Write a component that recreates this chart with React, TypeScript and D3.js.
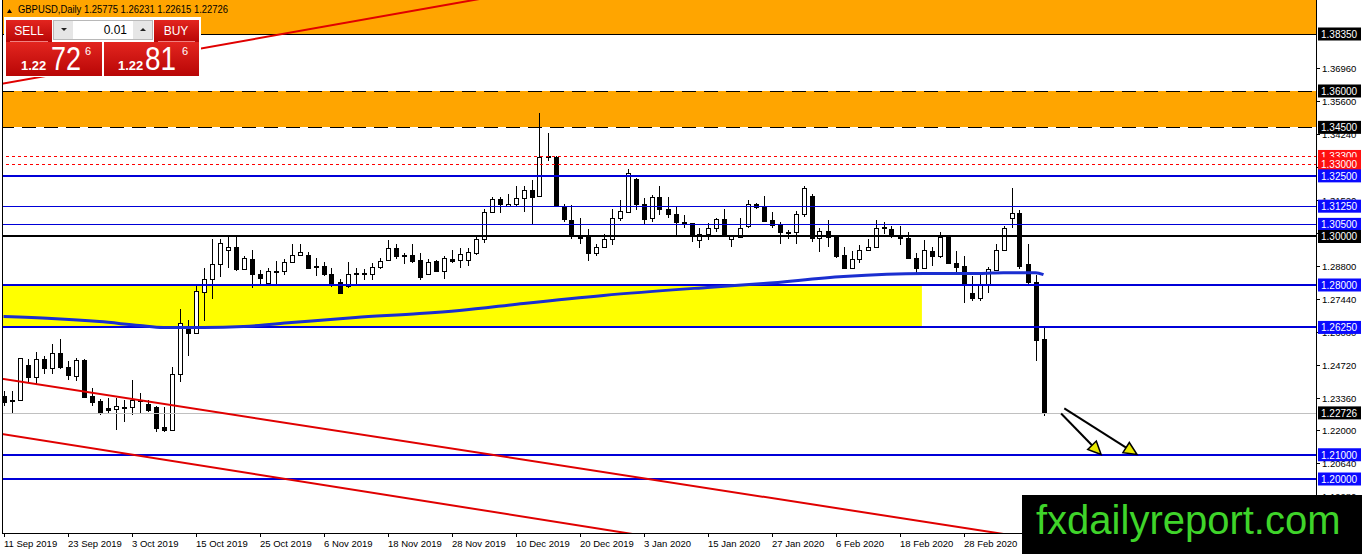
import React from "react";
import * as d3 from "d3";

// GBPUSD daily bars, bar 0 = 11 Sep 2019
const opens = [
  1.2344, 1.2325, 1.2324, 1.2472, 1.2419, 1.2493, 1.2456, 1.2518, 1.246, 1.2423,
  1.2489, 1.2344, 1.232, 1.2291, 1.2287, 1.2295, 1.2295, 1.2323, 1.2311, 1.2295,
  1.2216, 1.22, 1.2431, 1.2621, 1.26, 1.2773, 1.2823, 1.2885, 1.2946, 1.2955,
  1.2868, 1.2909, 1.2847, 1.281, 1.2855, 1.2856, 1.2893, 1.2922, 1.2922, 1.2877,
  1.288, 1.2847, 1.2814, 1.2794, 1.2846, 1.2847, 1.2847, 1.2876, 1.2905, 1.2951,
  1.2921, 1.2922, 1.2905, 1.2847, 1.2897, 1.2856, 1.2909, 1.2905, 1.2905, 1.293,
  1.2988, 1.3099, 1.3153, 1.3124, 1.3132, 1.3157, 1.319, 1.3165, 1.3331, 1.3326,
  1.312, 1.307, 1.2997, 1.2996, 1.293, 1.2955, 1.2988, 1.3078, 1.3103, 1.3239,
  1.3132, 1.3078, 1.3161, 1.3115, 1.3091, 1.3059, 1.3054, 1.2984, 1.3012, 1.3033,
  1.3074, 1.2988, 1.2996, 1.3045, 1.3136, 1.312, 1.307, 1.3049, 1.3018, 1.3017,
  1.3091, 1.3169, 1.2992, 1.3021, 1.2996, 1.2922, 1.2872, 1.2909, 1.2946, 1.2955,
  1.3036, 1.3029, 1.3, 1.2992, 1.2913, 1.2872, 1.2942, 1.2918, 1.2996, 1.2889,
  1.288, 1.2769, 1.2748, 1.2806, 1.286, 1.2946, 1.3078, 1.3095, 1.2885, 1.2814,
  1.25775,
];
const highs = [
  1.2361, 1.2361, 1.2501, 1.2493, 1.2522, 1.2509, 1.2555, 1.2579, 1.2485, 1.2497,
  1.2493, 1.2377, 1.2328, 1.2336, 1.2336, 1.2324, 1.241, 1.2353, 1.2324, 1.2303,
  1.2295, 1.246, 1.2703, 1.2654, 1.2794, 1.2872, 1.2988, 1.2988, 1.3008, 1.3004,
  1.2918, 1.2946, 1.286, 1.2872, 1.2901, 1.2909, 1.2971, 1.2971, 1.2934, 1.2913,
  1.2893, 1.2872, 1.2823, 1.2893, 1.2872, 1.2868, 1.2889, 1.2913, 1.2984, 1.2971,
  1.293, 1.2971, 1.293, 1.2909, 1.2905, 1.2918, 1.2946, 1.2951, 1.2951, 1.3004,
  1.3115, 1.3161, 1.3161, 1.3177, 1.321, 1.321, 1.3231, 1.3511, 1.3425, 1.333,
  1.3132, 1.3128, 1.3078, 1.3029, 1.2967, 1.3012, 1.3115, 1.3149, 1.328, 1.324,
  1.3157, 1.3173, 1.321, 1.3161, 1.312, 1.3087, 1.3054, 1.3033, 1.3054, 1.3078,
  1.3115, 1.3008, 1.3078, 1.3149, 1.314, 1.3169, 1.3099, 1.3058, 1.3025, 1.3107,
  1.321, 1.3177, 1.3037, 1.3066, 1.3, 1.2955, 1.2942, 1.2963, 1.2988, 1.3066,
  1.3058, 1.3045, 1.3045, 1.3017, 1.293, 1.2984, 1.2955, 1.3017, 1.2997, 1.2942,
  1.2918, 1.2839, 1.2843, 1.2876, 1.2967, 1.3045, 1.3198, 1.3111, 1.2971, 1.2843,
  1.26231,
];
const lows = [
  1.2303, 1.2274, 1.2321, 1.2394, 1.239, 1.2431, 1.2431, 1.2452, 1.241, 1.2406,
  1.2339, 1.2299, 1.2262, 1.2266, 1.22, 1.2233, 1.2262, 1.227, 1.2278, 1.2192,
  1.2192, 1.2199, 1.2402, 1.2509, 1.2599, 1.265, 1.2744, 1.2835, 1.2872, 1.2856,
  1.2867, 1.2786, 1.2802, 1.2802, 1.2802, 1.2843, 1.2892, 1.2921, 1.2868, 1.2839,
  1.2839, 1.279, 1.2761, 1.2786, 1.2806, 1.2819, 1.2819, 1.2868, 1.2901, 1.2909,
  1.2885, 1.2889, 1.2819, 1.2843, 1.2855, 1.2823, 1.2889, 1.2872, 1.288, 1.2922,
  1.2975, 1.3095, 1.3095, 1.3123, 1.3123, 1.3099, 1.3049, 1.3164, 1.3313, 1.3123,
  1.3058, 1.2988, 1.2971, 1.2897, 1.2918, 1.2954, 1.2963, 1.3062, 1.3102, 1.3111,
  1.3049, 1.3058, 1.3087, 1.3078, 1.3004, 1.3037, 1.2979, 1.2951, 1.2984, 1.3017,
  1.3, 1.2955, 1.2992, 1.3033, 1.3115, 1.3058, 1.3037, 1.2971, 1.2988, 1.2971,
  1.3082, 1.2979, 1.2934, 1.2955, 1.2913, 1.2871, 1.2864, 1.2889, 1.2942, 1.2951,
  1.3012, 1.2992, 1.2963, 1.2909, 1.2847, 1.2871, 1.288, 1.2913, 1.2885, 1.2852,
  1.2724, 1.2736, 1.2732, 1.2765, 1.2859, 1.2945, 1.3033, 1.2868, 1.2806, 1.2485,
  1.22615,
];
const closes = [
  1.2316, 1.2322, 1.2497, 1.2419, 1.2493, 1.2456, 1.2518, 1.246, 1.2427, 1.2489,
  1.234, 1.2316, 1.2278, 1.2283, 1.2299, 1.2297, 1.2324, 1.2325, 1.2283, 1.2212,
  1.22, 1.2431, 1.2645, 1.26, 1.2777, 1.2823, 1.2885, 1.2975, 1.2955, 1.2868,
  1.2913, 1.2847, 1.2827, 1.2856, 1.2857, 1.2893, 1.2922, 1.2934, 1.2872, 1.2875,
  1.2847, 1.2806, 1.2769, 1.2847, 1.2848, 1.2849, 1.2876, 1.2897, 1.2951, 1.2918,
  1.2923, 1.2901, 1.2831, 1.2893, 1.2856, 1.2913, 1.2901, 1.2926, 1.2934, 1.2988,
  1.3099, 1.3153, 1.3132, 1.3136, 1.3157, 1.319, 1.3161, 1.3326, 1.3329, 1.3124,
  1.3074, 1.3, 1.2995, 1.293, 1.2955, 1.2988, 1.3078, 1.3107, 1.326, 1.3132,
  1.3074, 1.3161, 1.3115, 1.3091, 1.3058, 1.3057, 1.3, 1.3012, 1.3033, 1.3074,
  1.3004, 1.3, 1.3037, 1.3136, 1.312, 1.3062, 1.3049, 1.3017, 1.3016, 1.3091,
  1.3198, 1.2992, 1.3021, 1.2996, 1.2918, 1.2872, 1.2909, 1.2946, 1.2955, 1.3037,
  1.3038, 1.3, 1.2992, 1.2913, 1.2872, 1.2946, 1.2918, 1.2996, 1.2889, 1.2876,
  1.2806, 1.2748, 1.2802, 1.2864, 1.2946, 1.3037, 1.3095, 1.288, 1.2814, 1.2575,
  1.22726,
];

// 200 day moving average, read at some bars
const maBars = [0, 6, 12, 17, 20, 25, 30, 36, 44, 52, 57, 65, 75, 88, 95, 105, 115, 122, 125, 129, 130];
const maValues = [
  1.267, 1.2662, 1.2649, 1.2633, 1.2625, 1.2625, 1.2629, 1.2645, 1.2666, 1.2682, 1.2695,
  1.2724, 1.2757, 1.279, 1.2806, 1.2835, 1.2847, 1.2847, 1.2851, 1.2851, 1.2843,
];

// date labels, one every 8 bars
const dateLabels = [
  "11 Sep 2019", "23 Sep 2019", "3 Oct 2019", "15 Oct 2019", "25 Oct 2019", "6 Nov 2019",
  "18 Nov 2019", "28 Nov 2019", "10 Dec 2019", "20 Dec 2019", "3 Jan 2020", "15 Jan 2020",
  "27 Jan 2020", "6 Feb 2020", "18 Feb 2020", "28 Feb 2020",
];
const priceTicks = [
  1.3696, 1.356, 1.3424, 1.3288, 1.3152, 1.3016, 1.288, 1.2744, 1.2608, 1.2472, 1.2336,
  1.22, 1.2064, 1.1928,
];

// drawn objects
const blueLevels = [1.325, 1.3125, 1.305, 1.28, 1.2625, 1.21, 1.2];
const thinLevels = [1.3125, 1.305];
const redLevels = [1.333, 1.33];
const blackLevel = 1.3;
const topLevel = 1.3835;
const orangeBand = [1.36, 1.345];
const yellowZone = { from: -2, to: 114.8, top: 1.28, bottom: 1.2625 };
const lastPrice = 1.22726;
// trend lines: [bar, price] anchors
const trendLines = [
  [[0, 1.3631], [55, 1.3953]],
  [[0, 1.2412], [100, 1.1901]],
  [[0, 1.2185], [80, 1.1766]],
];
const arrows = [
  [[132.2, 1.227], [137.2, 1.2101]],
  [[132.6, 1.2291], [141.7, 1.2101]],
];

const W = 1362;
const H = 554;
const axisX = 1316;
const bottomY = 533;
const font = "'Liberation Sans', Arial, sans-serif";

const x = d3.scaleLinear().domain([0, 130]).range([3.5, 1043.5]);
const y = d3.scaleLinear().domain([1.3835, 1.2]).range([34, 479]);
const py = (p: number) => Math.round(y(p));

function PriceBox({ price, bg }: { price: number; bg: string }) {
  const yy = y(price);
  return (
    <g>
      <rect x={axisX + 2} y={yy - 6.5} width={43} height={13} fill={bg} />
      <text x={axisX + 5} y={yy + 4} fill="#fff" fontSize={10} fontFamily={font}>
        {price.toFixed(5)}
      </text>
    </g>
  );
}

function extendLine(a: number[], b: number[]) {
  const x1 = x(a[0]), y1 = y(a[1]), x2 = x(b[0]), y2 = y(b[1]);
  const k = (y2 - y1) / (x2 - x1);
  return { x1: 0, y1: y1 - k * x1, x2: axisX, y2: y1 + k * (axisX - x1) };
}

function Arrow({ a, b }: { a: number[]; b: number[] }) {
  const x1 = x(a[0]), y1 = y(a[1]), x2 = x(b[0]), y2 = y(b[1]);
  const ang = Math.atan2(y2 - y1, x2 - x1);
  const len = 13, half = 6;
  const bx = x2 - len * Math.cos(ang), by = y2 - len * Math.sin(ang);
  const nx = -Math.sin(ang) * half, ny = Math.cos(ang) * half;
  return (
    <g>
      <line x1={x1} y1={y1} x2={bx} y2={by} stroke="#000" strokeWidth={2} />
      <polygon
        points={`${x2},${y2} ${bx + nx},${by + ny} ${bx - nx},${by - ny}`}
        fill="#e8e800"
        stroke="#000"
        strokeWidth={1.5}
      />
    </g>
  );
}

function TradePanel() {
  return (
    <g fontFamily={font}>
      <defs>
        <linearGradient id="redg" x1="0" y1="0" x2="0" y2="1">
          <stop offset="0" stopColor="#e3251f" />
          <stop offset="1" stopColor="#b80606" />
        </linearGradient>
      </defs>
      <rect x={4} y={17} width={197} height={60} fill="#fff" />
      <rect x={6} y={20} width={46} height={22} fill="url(#redg)" />
      <rect x={154} y={20} width={45} height={22} fill="url(#redg)" />
      <text x={29} y={35} textAnchor="middle" fill="#fff" fontSize={12}>SELL</text>
      <text x={176} y={35} textAnchor="middle" fill="#fff" fontSize={12}>BUY</text>
      <rect x={53.5} y={20.5} width={99} height={19} fill="#fff" stroke="#b8b8b8" />
      <rect x={54} y={21} width={19} height={18} fill="#e6e6e6" />
      <rect x={133} y={21} width={19} height={18} fill="#e6e6e6" />
      <path d="M61,28 L67,28 L64,31 Z" fill="#222" />
      <path d="M140,31 L146,31 L143,28 Z" fill="#222" />
      <text x={127} y={34} textAnchor="end" fill="#000" fontSize={12}>0.01</text>
      <rect x={6} y={42} width={96} height={34} fill="url(#redg)" />
      <rect x={104} y={42} width={95} height={34} fill="url(#redg)" />
      <line x1={10} x2={48} y1={41.5} y2={41.5} stroke="#f08080" />
      <line x1={158} x2={195} y1={41.5} y2={41.5} stroke="#f08080" />
      <text x={21} y={70} fill="#fff" fontSize={13} fontWeight="bold">1.22</text>
      <text x={51} y={70} fill="#fff" fontSize={34} textLength={30} lengthAdjust="spacingAndGlyphs">72</text>
      <text x={85} y={55} fill="#fff" fontSize={11}>6</text>
      <text x={118} y={70} fill="#fff" fontSize={13} fontWeight="bold">1.22</text>
      <text x={145} y={70} fill="#fff" fontSize={34} textLength={31} lengthAdjust="spacingAndGlyphs">81</text>
      <text x={182} y={55} fill="#fff" fontSize={11}>6</text>
    </g>
  );
}

export default function App() {
  const maLine = d3
    .line<number>()
    .x((_, i) => x(maBars[i]))
    .y((d) => y(d))
    .curve(d3.curveMonotoneX)(maValues);

  return (
    <svg
      width={W}
      height={H}
      style={{ position: "absolute", left: 0, top: 0, display: "block", background: "#fff" }}
    >
      <defs>
        <clipPath id="plot">
          <rect x={2} y={0} width={axisX - 2} height={bottomY} />
        </clipPath>
      </defs>
      <rect width={W} height={H} fill="#fff" />

      <g clipPath="url(#plot)">
        {/* background objects */}
        <rect x={0} y={0} width={axisX} height={py(topLevel)} fill="#ffa500" />
        <rect
          x={0}
          y={py(orangeBand[0])}
          width={axisX}
          height={py(orangeBand[1]) - py(orangeBand[0])}
          fill="#ffa500"
        />
        <rect
          x={x(yellowZone.from)}
          y={py(yellowZone.top)}
          width={x(yellowZone.to) - x(yellowZone.from)}
          height={py(yellowZone.bottom) - py(yellowZone.top)}
          fill="#ffff00"
        />

        {/* candles */}
        {opens.map((o, i) => {
          const c = closes[i];
          const cx = Math.round(x(i));
          const top = Math.round(Math.min(y(o), y(c)));
          const bot = Math.round(Math.max(y(o), y(c)));
          return (
            <g key={i}>
              <line
                x1={cx + 0.5}
                x2={cx + 0.5}
                y1={py(highs[i])}
                y2={py(lows[i])}
                stroke="#000"
              />
              <rect
                x={cx - 1.5}
                y={top + 0.5}
                width={4}
                height={Math.max(bot - top, 1)}
                fill={c >= o ? "#fff" : "#000"}
                stroke="#000"
              />
            </g>
          );
        })}

        {/* levels */}
        <line x1={0} x2={axisX} y1={py(topLevel) + 0.5} y2={py(topLevel) + 0.5} stroke="#000" />
        {orangeBand.map((p) => (
          <line
            key={p}
            x1={0}
            x2={axisX}
            y1={py(p) + 0.5}
            y2={py(p) + 0.5}
            stroke="#000"
            strokeDasharray="14,8"
          />
        ))}
        {redLevels.map((p) => (
          <line
            key={p}
            x1={0}
            x2={axisX}
            y1={py(p) + 0.5}
            y2={py(p) + 0.5}
            stroke="#ff0000"
            strokeDasharray="3,3"
          />
        ))}
        {blueLevels.map((p) => {
          const thin = thinLevels.includes(p);
          return (
            <line
              key={p}
              x1={0}
              x2={axisX}
              y1={py(p) + (thin ? 0.5 : 0)}
              y2={py(p) + (thin ? 0.5 : 0)}
              stroke="#0000d8"
              strokeWidth={thin ? 1 : 2}
            />
          );
        })}
        <line x1={0} x2={axisX} y1={py(blackLevel)} y2={py(blackLevel)} stroke="#000" strokeWidth={2} />
        <line x1={0} x2={axisX} y1={py(lastPrice) + 0.5} y2={py(lastPrice) + 0.5} stroke="#c0c0c0" />

        {/* trend lines */}
        {trendLines.map(([a, b], i) => {
          const l = extendLine(a, b);
          return <line key={i} {...l} stroke="#e00000" strokeWidth={2} />;
        })}

        {/* moving average */}
        <path d={maLine || ""} fill="none" stroke="#1a2ed0" strokeWidth={3} />

        {arrows.map(([a, b], i) => (
          <Arrow key={i} a={a} b={b} />
        ))}
      </g>

      {/* frame */}
      <line x1={2.5} x2={2.5} y1={0} y2={bottomY} stroke="#000" />
      <line x1={2} x2={axisX} y1={bottomY + 0.5} y2={bottomY + 0.5} stroke="#000" />
      <line x1={axisX + 0.5} x2={axisX + 0.5} y1={0} y2={H} stroke="#000" />

      {/* price axis */}
      {priceTicks.map((p) => (
        <g key={p}>
          <line x1={axisX} x2={axisX + 4} y1={py(p) + 0.5} y2={py(p) + 0.5} stroke="#000" />
          <text x={axisX + 6} y={y(p) + 4} fontSize={9.5} fontFamily={font} fill="#000">
            {p.toFixed(5)}
          </text>
        </g>
      ))}

      {/* time axis */}
      {dateLabels.map((d, i) => {
        const bx = Math.round(x(i * 8));
        return (
          <g key={d}>
            <line x1={bx + 0.5} x2={bx + 0.5} y1={bottomY} y2={bottomY + 4} stroke="#000" />
            <text x={bx} y={547} fontSize={9.5} fontFamily={font} fill="#000">
              {d}
            </text>
          </g>
        );
      })}

      {/* level price boxes */}
      <PriceBox price={topLevel} bg="#000" />
      {orangeBand.map((p) => (
        <PriceBox key={p} price={p} bg="#000" />
      ))}
      {redLevels.map((p) => (
        <PriceBox key={p} price={p} bg="#ff1010" />
      ))}
      {blueLevels.map((p) => (
        <PriceBox key={p} price={p} bg="#0a0aff" />
      ))}
      <PriceBox price={blackLevel} bg="#000" />
      <PriceBox price={lastPrice} bg="#000" />

      {/* header */}
      <path d="M7,13 L12,13 L9.5,9 Z" fill="#000" />
      <text x={18} y={13} fontSize={10} fontFamily={font} fill="#000" textLength={210} lengthAdjust="spacingAndGlyphs">
        GBPUSD,Daily  1.25775 1.26231 1.22615 1.22726
      </text>
      <TradePanel />

      {/* watermark */}
      <rect x={1022} y={495} width={W - 1022} height={H - 495} fill="#000" />
      <text x={1036} y={534} fontSize={40} fontFamily={font} fill="#3fd42a">
        fxdailyreport.com
      </text>
    </svg>
  );
}
